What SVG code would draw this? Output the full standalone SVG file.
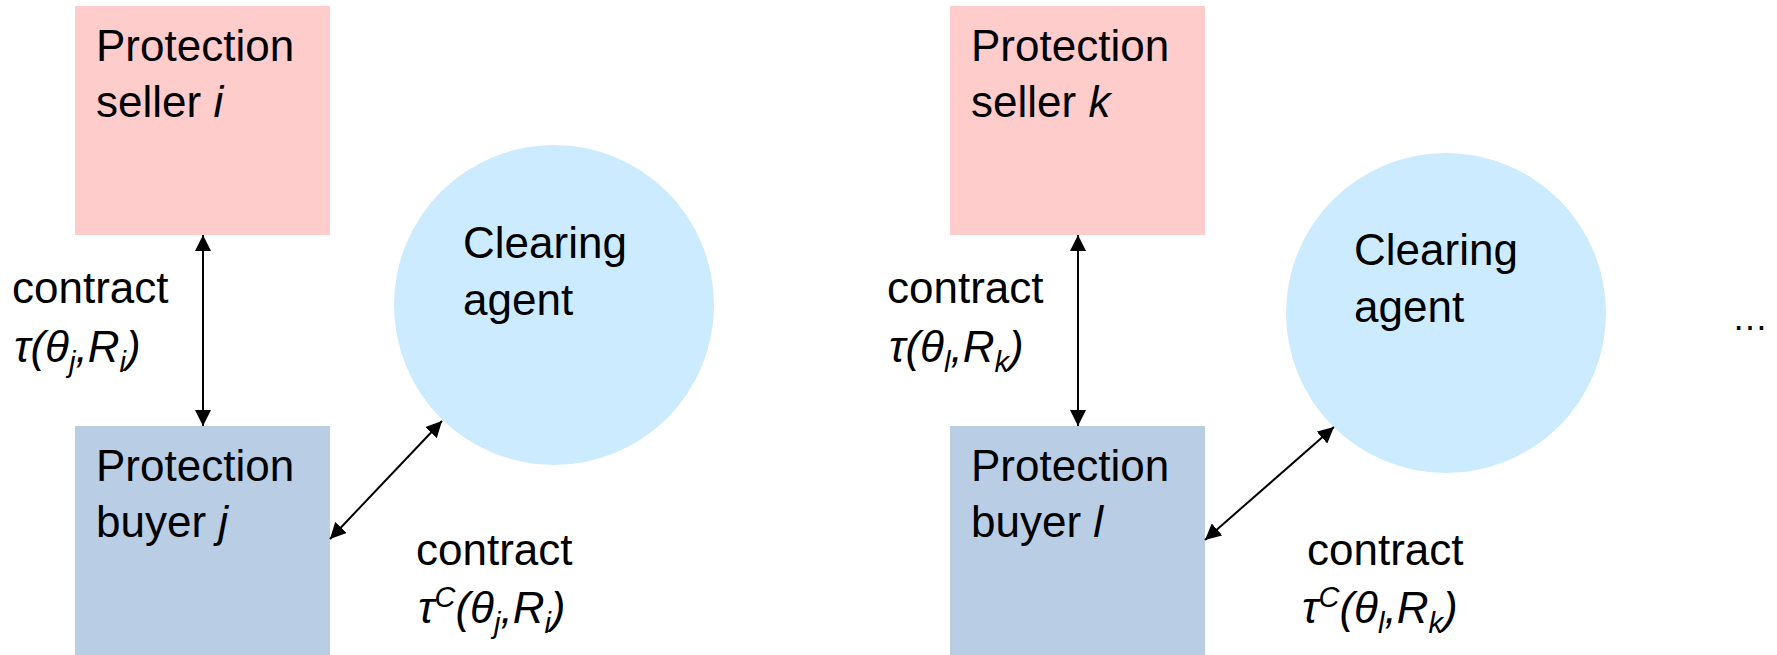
<svg xmlns="http://www.w3.org/2000/svg" width="1777" height="655" viewBox="0 0 1777 655">
  <defs>
    <style>
      .seller { fill: #FFCCCC; }
      .buyer { fill: #B9CDE5; }
      .clear { fill: #CCEBFE; }
      .lbl { font-family: "Liberation Sans", Arial, sans-serif; font-size: 44px; fill: #000; }
      .it { font-style: italic; }
      .f { font-family: "Liberation Sans", Arial, sans-serif; font-size: 44px; font-style: italic; fill: #000; }
      .sub { font-size: 29px; }
      .link { stroke: #000; stroke-width: 2; fill: none; marker-start: url(#head); marker-end: url(#head); }
    </style>
    <marker id="head" viewBox="0 0 16 16" refX="16" refY="8" markerWidth="16" markerHeight="16" markerUnits="userSpaceOnUse" orient="auto-start-reverse">
      <path d="M0,0 L16,8 L0,16 Z" fill="#000"/>
    </marker>
  </defs>

  <rect width="1777" height="655" fill="#FFFFFF"/>

  <!-- first market: seller i, buyer j, clearing agent -->
  <g id="seller-i">
    <rect class="seller" x="75" y="6" width="255" height="229"/>
    <text class="lbl" x="96" y="61">Protection</text>
    <text class="lbl" x="96" y="117">seller <tspan class="it">i</tspan></text>
  </g>
  <g id="buyer-j">
    <rect class="buyer" x="75" y="426" width="255" height="229"/>
    <text class="lbl" x="96" y="481">Protection</text>
    <text class="lbl" x="96" y="537">buyer <tspan class="it">j</tspan></text>
  </g>
  <g id="clearing-1">
    <circle class="clear" cx="554" cy="305" r="160"/>
    <text class="lbl" x="463" y="258">Clearing</text>
    <text class="lbl" x="463" y="315">agent</text>
  </g>

  <!-- second market: seller k, buyer l, clearing agent -->
  <g id="seller-k">
    <rect class="seller" x="950" y="6" width="255" height="229"/>
    <text class="lbl" x="971" y="61">Protection</text>
    <text class="lbl" x="971" y="117">seller <tspan class="it">k</tspan></text>
  </g>
  <g id="buyer-l">
    <rect class="buyer" x="950" y="426" width="255" height="229"/>
    <text class="lbl" x="971" y="481">Protection</text>
    <text class="lbl" x="971" y="537">buyer <tspan class="it">l</tspan></text>
  </g>
  <g id="clearing-2">
    <circle class="clear" cx="1446" cy="313" r="160"/>
    <text class="lbl" x="1354" y="265">Clearing</text>
    <text class="lbl" x="1354" y="322">agent</text>
  </g>

  <!-- contract links -->
  <g id="connectors">
    <line class="link" x1="203" y1="426" x2="203" y2="235"/>
    <line class="link" x1="442" y1="421" x2="330" y2="539"/>
    <line class="link" x1="1078" y1="426" x2="1078" y2="235"/>
    <line class="link" x1="1334" y1="427" x2="1205" y2="540"/>
  </g>

  <!-- contract labels -->
  <g id="labels">
    <text class="lbl" x="12" y="303">contract</text>
    <text class="f" x="14" y="362">τ(θ<tspan class="sub" dy="10">j</tspan><tspan dy="-10">,R</tspan><tspan class="sub" dy="10">i</tspan><tspan dy="-10">)</tspan></text>

    <text class="lbl" x="416" y="565">contract</text>
    <text class="f" x="418" y="623">τ<tspan class="sub" dy="-16">C</tspan><tspan dy="16">(θ</tspan><tspan class="sub" dy="10">j</tspan><tspan dy="-10">,R</tspan><tspan class="sub" dy="10">i</tspan><tspan dy="-10">)</tspan></text>

    <text class="lbl" x="887" y="303">contract</text>
    <text class="f" x="889" y="362">τ(θ<tspan class="sub" dy="10">l</tspan><tspan dy="-10">,R</tspan><tspan class="sub" dy="10">k</tspan><tspan dy="-10">)</tspan></text>

    <text class="lbl" x="1307" y="565">contract</text>
    <text class="f" x="1302" y="623">τ<tspan class="sub" dy="-16">C</tspan><tspan dy="16">(θ</tspan><tspan class="sub" dy="10">l</tspan><tspan dy="-10">,R</tspan><tspan class="sub" dy="10">k</tspan><tspan dy="-10">)</tspan></text>

    <text class="lbl" x="1732" y="330" style="font-size:36px">…</text>
  </g>
</svg>
